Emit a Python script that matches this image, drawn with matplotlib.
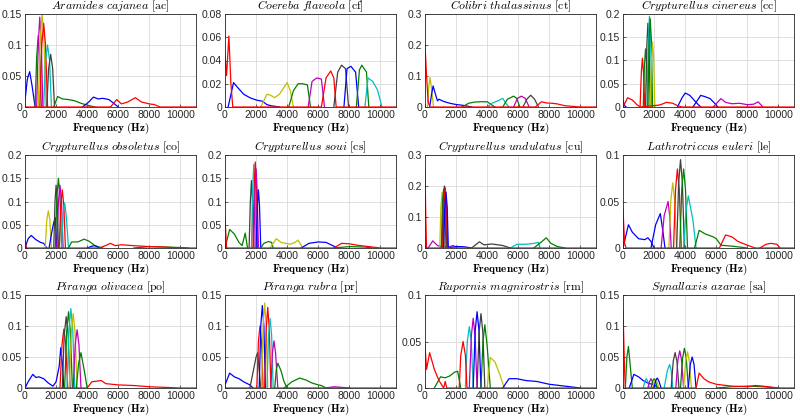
import matplotlib
matplotlib.use('Agg')
import matplotlib.pyplot as plt
from matplotlib.ticker import MultipleLocator, FormatStrFormatter

plt.rcParams['mathtext.fontset'] = 'cm'
plt.rcParams['font.family'] = 'Liberation Sans'

# species names, codes, y-axis top and y tick step for the 12 panels
species = ['Aramides cajanea', 'Coereba flaveola', 'Colibri thalassinus', 'Crypturellus cinereus',
           'Crypturellus obsoletus', 'Crypturellus soui', 'Crypturellus undulatus', 'Lathrotriccus euleri',
           'Piranga olivacea', 'Piranga rubra', 'Rupornis magnirostris', 'Synallaxis azarae']
codes = ['ac', 'cf', 'ct', 'cc', 'co', 'cs', 'cu', 'le', 'po', 'pr', 'rm', 'sa']
ymax = [0.15, 0.08, 0.3, 0.2, 0.2, 0.2, 0.3, 0.1, 0.15, 0.15, 0.1, 0.15]
ystep = [0.05, 0.02, 0.1, 0.05, 0.05, 0.05, 0.1, 0.05, 0.05, 0.05, 0.05, 0.05]
xticks = [0, 2000, 4000, 6000, 8000, 10000]

# each curve: (colour key, frequency Hz, amplitude)
ac = [
    ('b', [0, 150, 300, 450, 650], [0.01, 0.045, 0.057, 0.035, 0]),
    ('g', [650, 750, 850, 950, 1050], [0, 0.08, 0.115, 0.08, 0]),
    ('m', [750, 850, 950, 1050, 1150], [0, 0.1, 0.145, 0.1, 0]),
    ('y', [850, 980, 1100, 1220, 1350], [0, 0.11, 0.15, 0.11, 0]),
    ('r', [950, 1080, 1200, 1320, 1450], [0, 0.1, 0.135, 0.1, 0]),
    ('c', [1200, 1320, 1450, 1580, 1700], [0, 0.075, 0.10, 0.075, 0]),
    ('k', [1400, 1520, 1650, 1780, 1900], [0, 0.062, 0.085, 0.062, 0]),
    ('g', [1850, 2100, 2400, 2800, 3200, 3600, 4000, 4500], [0, 0.017, 0.013, 0.012, 0.010, 0.006, 0.003, 0]),
    ('b', [3700, 4100, 4400, 4700, 5000, 5400, 5700, 6000], [0, 0.008, 0.016, 0.013, 0.014, 0.012, 0.006, 0]),
    ('r', [0, 5500, 5900, 6200, 6600, 7100, 7500, 8000, 8300, 8700, 11000],
     [0, 0, 0.012, 0.005, 0.008, 0.015, 0.008, 0.005, 0.004, 0, 0]),
]
cf = [
    ('b', [200, 550, 800, 1200, 1600, 2000, 2400, 2700, 3000, 3500],
     [0, 0.021, 0.017, 0.011, 0.008, 0.006, 0.005, 0.002, 0.001, 0]),
    ('y', [2300, 2700, 2950, 3200, 3500, 4000, 4200, 4400], [0, 0.011, 0.010, 0.008, 0.011, 0.021, 0.014, 0]),
    ('g', [4100, 4400, 4700, 5000, 5300, 5500], [0, 0.014, 0.020, 0.020, 0.019, 0]),
    ('m', [5350, 5600, 5900, 6200, 6400], [0, 0.022, 0.025, 0.024, 0]),
    ('k', [7000, 7250, 7500, 7750, 7950], [0, 0.030, 0.036, 0.033, 0]),
    ('b', [7650, 7850, 8100, 8400, 8600], [0, 0.033, 0.035, 0.030, 0]),
    ('g', [8450, 8650, 8800, 9100, 9250], [0, 0.032, 0.036, 0.030, 0]),
    ('c', [9000, 9200, 9500, 9800, 10100], [0, 0.025, 0.022, 0.015, 0]),
    ('r', [0, 100, 250, 380, 500, 6200, 6500, 6800, 7000, 7150, 11000],
     [0.045, 0.027, 0.061, 0.02, 0, 0, 0.025, 0.031, 0.025, 0, 0]),
]
ct = [
    ('y', [150, 250, 320, 420, 550], [0, 0.07, 0.095, 0.06, 0]),
    ('b', [300, 420, 520, 650, 800, 900, 1200, 1600, 2000, 2500, 3000],
     [0, 0.04, 0.068, 0.045, 0.02, 0.025, 0.018, 0.012, 0.008, 0.005, 0]),
    ('g', [2400, 2800, 3200, 3600, 4000, 4200, 4500], [0, 0.012, 0.016, 0.017, 0.017, 0.01, 0]),
    ('c', [4000, 4300, 4700, 5000, 5200, 5400], [0, 0.012, 0.02, 0.028, 0.012, 0]),
    ('g', [5000, 5300, 5700, 5900, 6100], [0, 0.025, 0.035, 0.028, 0]),
    ('m', [5700, 5950, 6200, 6450, 6700], [0, 0.028, 0.035, 0.028, 0]),
    ('k', [6300, 6550, 6800, 7050, 7300], [0, 0.025, 0.038, 0.025, 0]),
    ('r', [0, 100, 200, 300, 7100, 7500, 7800, 8200, 8500, 9000, 9500, 10000, 11000],
     [0.2, 0.1, 0.02, 0, 0, 0.017, 0.013, 0.012, 0.01, 0.004, 0.002, 0, 0]),
]
cc = [
    ('b', [0, 100, 200], [0.015, 0.003, 0]),
    ('r', [1100, 1180, 1250, 1320, 1400], [0, 0.075, 0.105, 0.075, 0]),
    ('g', [1300, 1380, 1450, 1530, 1600], [0, 0.09, 0.125, 0.09, 0]),
    ('k', [1450, 1530, 1600, 1680, 1750], [0, 0.13, 0.18, 0.13, 0]),
    ('c', [1550, 1630, 1700, 1780, 1850], [0, 0.14, 0.195, 0.14, 0]),
    ('g', [1600, 1680, 1750, 1830, 1900], [0, 0.14, 0.19, 0.14, 0]),
    ('y', [1750, 1830, 1900, 1980, 2050], [0, 0.1, 0.14, 0.1, 0]),
    ('b', [3500, 3800, 4000, 4300, 4700, 5000], [0, 0.02, 0.03, 0.025, 0.01, 0]),
    ('b', [4500, 4800, 5000, 5300, 5600, 5900, 6100], [0, 0.015, 0.025, 0.022, 0.018, 0.008, 0]),
    ('m', [5800, 6300, 6600, 7000, 7500, 8000, 8400, 8700, 9000],
     [0, 0.018, 0.01, 0.007, 0.008, 0.005, 0.006, 0.011, 0]),
    ('r', [0, 300, 600, 900, 1100, 2000, 2300, 2500, 2800, 3200, 3500, 3800, 11000],
     [0, 0.02, 0.015, 0.005, 0, 0.003, 0.004, 0.006, 0.01, 0.008, 0.003, 0, 0]),
]
co = [
    ('b', [0, 200, 400, 700, 1000, 1200, 1400], [0, 0.02, 0.027, 0.018, 0.012, 0.01, 0]),
    ('y', [1300, 1400, 1500, 1600, 1700], [0, 0.06, 0.08, 0.06, 0]),
    ('b', [1550, 1700, 1850, 1950, 2050], [0, 0.03, 0.055, 0.065, 0]),
    ('k', [1850, 1930, 2000, 2070, 2150], [0, 0.1, 0.135, 0.1, 0]),
    ('g', [1950, 2050, 2150, 2250, 2350], [0, 0.11, 0.15, 0.11, 0]),
    ('m', [2050, 2150, 2250, 2350, 2450], [0, 0.1, 0.135, 0.1, 0]),
    ('r', [2200, 2300, 2400, 2500, 2600], [0, 0.09, 0.125, 0.09, 0]),
    ('c', [2350, 2450, 2550, 2650, 2800], [0, 0.07, 0.097, 0.07, 0]),
    ('g', [2800, 3000, 3400, 3800, 4100, 4500, 5000], [0, 0.013, 0.013, 0.019, 0.015, 0.005, 0]),
    ('b', [4000, 4300, 4500, 4800], [0, 0.004, 0.005, 0]),
    ('g', [7000, 8000, 9000, 10000, 10500], [0, 0.003, 0.002, 0.001, 0]),
    ('r', [0, 100, 4800, 5300, 5500, 5800, 6200, 7000, 8000, 9000, 10000, 11000],
     [0.015, 0, 0, 0.007, 0.01, 0.005, 0.007, 0.005, 0.003, 0.002, 0, 0]),
]
cs = [
    ('g', [0, 300, 600, 900, 1100, 1300, 1450], [0, 0.04, 0.03, 0.012, 0.005, 0.032, 0]),
    ('k', [1550, 1630, 1700, 1770, 1850], [0, 0.1, 0.145, 0.1, 0]),
    ('c', [1700, 1780, 1850, 1920, 2000], [0, 0.13, 0.18, 0.13, 0]),
    ('r', [1800, 1880, 1950, 2020, 2100], [0, 0.135, 0.185, 0.135, 0]),
    ('m', [1850, 1930, 2000, 2070, 2150], [0, 0.12, 0.17, 0.12, 0]),
    ('b', [2000, 2080, 2150, 2220, 2300], [0, 0.09, 0.125, 0.09, 0]),
    ('g', [2300, 2500, 2800, 3000, 3100], [0, 0.01, 0.014, 0.012, 0]),
    ('y', [2900, 3300, 3600, 3900, 4200, 4500, 4700, 5000], [0, 0.02, 0.012, 0.01, 0.008, 0.012, 0.017, 0]),
    ('b', [4900, 5400, 6000, 6500, 7000, 7200], [0, 0.01, 0.013, 0.012, 0.004, 0]),
    ('g', [7000, 8000, 9000, 9500], [0, 0.003, 0.002, 0]),
    ('r', [0, 100, 7000, 7500, 8000, 8500, 9000, 9500, 10000, 11000],
     [0.065, 0, 0, 0.01, 0.009, 0.006, 0.004, 0.002, 0, 0]),
]
cu = [
    ('m', [200, 500, 800, 1000, 1500, 1800, 2100], [0, 0.023, 0.008, 0.005, 0.003, 0.008, 0]),
    ('y', [950, 1020, 1100, 1180, 1250], [0, 0.13, 0.18, 0.13, 0]),
    ('g', [1050, 1120, 1200, 1280, 1350], [0, 0.14, 0.19, 0.14, 0]),
    ('k', [1100, 1170, 1250, 1330, 1400], [0, 0.15, 0.2, 0.15, 0]),
    ('r', [1150, 1220, 1300, 1380, 1450], [0, 0.145, 0.195, 0.145, 0]),
    ('b', [1200, 1270, 1350, 1430, 1500], [0, 0.13, 0.18, 0.13, 0]),
    ('b', [1500, 2000, 2500, 3000], [0, 0.005, 0.004, 0]),
    ('k', [3000, 3500, 3800, 4300, 5000, 5500], [0, 0.02, 0.01, 0.013, 0.008, 0]),
    ('c', [5500, 5900, 6500, 7000, 7300, 7400], [0, 0.012, 0.012, 0.015, 0.018, 0]),
    ('g', [7000, 7500, 7800, 8100, 8500, 9000], [0, 0.02, 0.033, 0.015, 0.005, 0]),
    ('r', [0, 50, 100, 11000], [0.25, 0.1, 0, 0]),
]
le = [
    ('b', [0, 350, 600, 1000, 1400, 1600, 1800, 2000], [0, 0.025, 0.017, 0.01, 0.009, 0.011, 0.007, 0]),
    ('b', [1800, 2100, 2400, 2550, 2700], [0, 0.025, 0.037, 0.02, 0]),
    ('m', [2450, 2650, 2900, 3000, 3100], [0, 0.035, 0.05, 0.035, 0]),
    ('y', [2950, 3080, 3200, 3320, 3450], [0, 0.052, 0.07, 0.052, 0]),
    ('r', [3250, 3380, 3500, 3620, 3750], [0, 0.063, 0.085, 0.063, 0]),
    ('k', [3450, 3580, 3700, 3820, 3950], [0, 0.07, 0.095, 0.07, 0]),
    ('g', [3650, 3780, 3900, 4020, 4150], [0, 0.063, 0.085, 0.063, 0]),
    ('c', [3900, 4050, 4200, 4500, 4700], [0, 0.04, 0.056, 0.03, 0]),
    ('g', [4600, 4900, 5300, 5800, 6000, 6300, 7000, 8000], [0, 0.019, 0.015, 0.012, 0.01, 0.003, 0.002, 0]),
    ('r', [8800, 9200, 9500, 9900, 10100], [0, 0.004, 0.005, 0.004, 0]),
    ('r', [0, 100, 200, 6200, 6600, 7000, 7400, 8000, 8500, 11000],
     [0.042, 0.005, 0, 0, 0.014, 0.012, 0.007, 0.003, 0, 0]),
]
po = [
    ('b', [0, 200, 500, 700, 900, 1200, 1500, 1800, 2000, 2200, 2300, 2400, 2500],
     [0, 0.01, 0.022, 0.017, 0.018, 0.015, 0.008, 0.003, 0.01, 0.035, 0.065, 0.04, 0]),
    ('r', [2250, 2380, 2500, 2620, 2750], [0, 0.07, 0.095, 0.07, 0]),
    ('k', [2400, 2520, 2650, 2780, 2900], [0, 0.085, 0.115, 0.085, 0]),
    ('g', [2550, 2680, 2800, 2920, 3050], [0, 0.09, 0.123, 0.09, 0]),
    ('c', [2700, 2830, 2950, 3070, 3200], [0, 0.095, 0.128, 0.095, 0]),
    ('y', [2850, 2980, 3100, 3220, 3350], [0, 0.09, 0.12, 0.09, 0]),
    ('m', [3100, 3230, 3350, 3470, 3600], [0, 0.07, 0.094, 0.07, 0]),
    ('g', [3300, 3450, 3600, 3800, 4000], [0, 0.04, 0.057, 0.03, 0]),
    ('r', [0, 4000, 4300, 4600, 4900, 5200, 6000, 7000, 8000, 9000, 10000, 11000],
     [0, 0, 0.01, 0.011, 0.012, 0.007, 0.005, 0.004, 0.002, 0.001, 0, 0]),
]
pr = [
    ('b', [0, 300, 600, 900, 1200, 1600, 1800], [0.005, 0.024, 0.018, 0.015, 0.01, 0.005, 0]),
    ('k', [1600, 1800, 2000, 2100, 2300], [0, 0.025, 0.05, 0.057, 0]),
    ('r', [2050, 2150, 2250, 2350, 2450], [0, 0.075, 0.1, 0.075, 0]),
    ('b', [2200, 2300, 2400, 2500, 2600], [0, 0.1, 0.133, 0.1, 0]),
    ('y', [2350, 2450, 2550, 2650, 2750], [0, 0.1, 0.137, 0.1, 0]),
    ('r', [0, 2550, 2650, 2750, 2850, 2950, 11000], [0, 0, 0.095, 0.13, 0.095, 0, 0]),
    ('c', [2700, 2800, 2900, 3000, 3100], [0, 0.085, 0.112, 0.085, 0]),
    ('m', [2950, 3050, 3150, 3250, 3400], [0, 0.057, 0.076, 0.057, 0]),
    ('g', [3200, 3300, 3400, 3600, 3800, 4000], [0, 0.03, 0.04, 0.028, 0.01, 0]),
    ('g', [3800, 4300, 4800, 5200, 5600, 6000, 6200, 6500], [0, 0.01, 0.016, 0.013, 0.008, 0.005, 0.004, 0]),
    ('m', [6500, 7000, 7500, 8000], [0, 0.002, 0.001, 0]),
]
rm = [
    ('g', [600, 1000, 1300, 1600, 1900, 2100, 2300], [0, 0.012, 0.011, 0.013, 0.017, 0.018, 0]),
    ('c', [2600, 2720, 2850, 2980, 3100], [0, 0.05, 0.066, 0.05, 0]),
    ('m', [2850, 2980, 3100, 3220, 3350], [0, 0.056, 0.075, 0.056, 0]),
    ('b', [3100, 3230, 3350, 3470, 3600], [0, 0.062, 0.082, 0.062, 0]),
    ('k', [3350, 3480, 3600, 3720, 3850], [0, 0.06, 0.08, 0.06, 0]),
    ('g', [3600, 3730, 3850, 4000, 4200], [0, 0.05, 0.068, 0.045, 0]),
    ('y', [4000, 4200, 4500, 4800, 5100], [0, 0.033, 0.028, 0.015, 0]),
    ('b', [5000, 5400, 5900, 6500, 7200, 8000, 9000, 10000], [0, 0.01, 0.01, 0.008, 0.007, 0.004, 0.002, 0]),
    ('r', [0, 100, 300, 600, 900, 1200, 1300, 1400, 2200, 2300, 2450, 2600, 2700, 11000],
     [0.045, 0.02, 0.038, 0.02, 0.008, 0, 0.007, 0, 0, 0.035, 0.05, 0.035, 0, 0]),
]
sa = [
    ('g', [150, 250, 350, 450, 600], [0, 0.05, 0.067, 0.04, 0]),
    ('b', [400, 700, 1000, 1300, 1600, 2000, 2300], [0, 0.022, 0.018, 0.012, 0.008, 0.005, 0]),
    ('c', [1300, 1400, 1500, 1600, 1700], [0, 0.01, 0.015, 0.01, 0]),
    ('m', [1600, 1700, 1800, 1900, 2000], [0, 0.01, 0.015, 0.01, 0]),
    ('g', [1800, 1900, 2000, 2100, 2200], [0, 0.011, 0.015, 0.011, 0]),
    ('y', [1900, 2000, 2100, 2200, 2300], [0, 0.01, 0.014, 0.01, 0]),
    ('b', [2000, 2100, 2200, 2300, 2450], [0, 0.012, 0.016, 0.012, 0]),
    ('c', [2650, 2850, 3000, 3100, 3200], [0, 0.028, 0.038, 0.028, 0]),
    ('k', [3100, 3230, 3350, 3470, 3600], [0, 0.043, 0.057, 0.043, 0]),
    ('m', [3400, 3530, 3650, 3770, 3900], [0, 0.045, 0.06, 0.045, 0]),
    ('g', [3700, 3830, 3950, 4070, 4200], [0, 0.048, 0.064, 0.048, 0]),
    ('y', [3900, 4030, 4150, 4270, 4400], [0, 0.043, 0.058, 0.043, 0]),
    ('b', [4200, 4330, 4450, 4570, 4700], [0, 0.038, 0.05, 0.038, 0]),
    ('g', [6000, 7000, 8000, 9000, 10000], [0, 0.002, 0.003, 0.002, 0]),
    ('r', [0, 100, 150, 4700, 4900, 5200, 5500, 6000, 7000, 8000, 8500, 9000, 10000, 11000],
     [0.125, 0.03, 0, 0, 0.024, 0.015, 0.01, 0.006, 0.003, 0.002, 0.004, 0.003, 0, 0]),
]
panels = [ac, cf, ct, cc, co, cs, cu, le, po, pr, rm, sa]

# old matlab line colours
colors = {'b': (0, 0, 1), 'g': (0, 0.5, 0), 'r': (1, 0, 0), 'c': (0, 0.75, 0.75),
          'm': (0.75, 0, 0.75), 'y': (0.75, 0.75, 0), 'k': (0.25, 0.25, 0.25)}

W, H = 800, 418
fig = plt.figure(figsize=(W / 100, H / 100), dpi=100)
lefts = [25, 225, 425, 623]
tops = [14, 155, 295]
aw, ah = 171, 93

for i in range(12):
    r, c = divmod(i, 4)
    ax = fig.add_axes([lefts[c] / W, (H - tops[r] - ah) / H, aw / W, ah / H])
    for key, f, a in panels[i]:
        ax.plot(f, a, color=colors[key], lw=0.9)
    ax.set_xlim(0, 11000)
    ax.set_ylim(0, ymax[i])
    ax.set_xticks(xticks)
    ax.yaxis.set_major_locator(MultipleLocator(ystep[i]))
    ax.yaxis.set_major_formatter(FormatStrFormatter('%g'))
    ax.grid(True, color=(0.86, 0.86, 0.86), lw=0.6)
    ax.set_axisbelow(True)
    ax.tick_params(direction='in', length=2, width=0.5, labelsize=7.5, pad=2, colors=(0.15, 0.15, 0.15))
    for sp in ax.spines.values():
        sp.set_color((0.15, 0.15, 0.15))
        sp.set_linewidth(0.6)
    name = species[i].replace(' ', r'\ ')
    ax.set_title(r'$\mathit{' + name + r'}\ \mathrm{[' + codes[i] + ']}$', fontsize=8.5, pad=1)
    ax.set_xlabel(r'$\mathbf{Frequency\ (Hz)}$', fontsize=8, labelpad=1)

fig.savefig('out.png', dpi=100)
